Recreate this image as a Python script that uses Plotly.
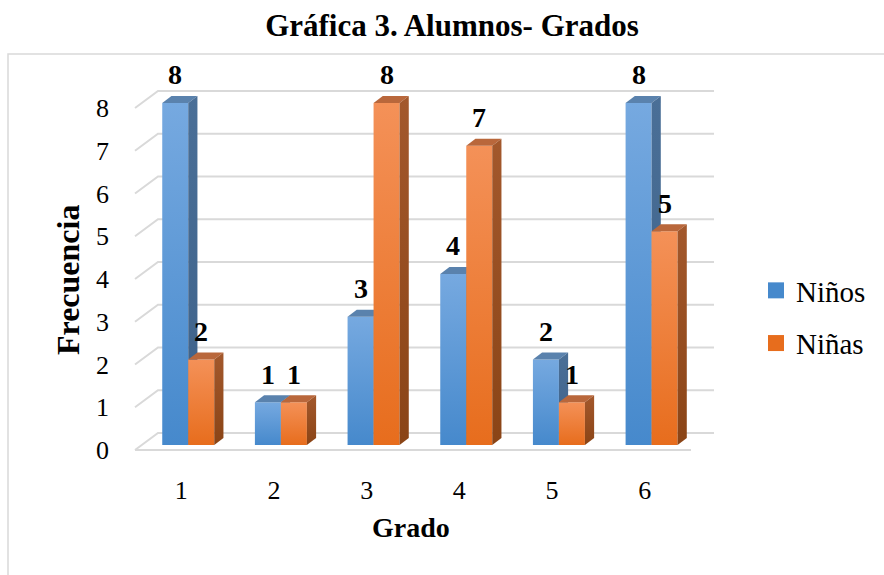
"""Gráfica 3: alumnos por grado (columnas 3D agrupadas, estilo Excel)."""

import plotly.graph_objects as go

GRADOS = [1, 2, 3, 4, 5, 6]
NINOS = [8, 1, 3, 4, 2, 8]
NINAS = [2, 1, 8, 7, 1, 5]
Y_TICKS = [0, 1, 2, 3, 4, 5, 6, 7, 8]

SERIES = [
    # name, values, front bottom, front top, side bottom, side top, top face
    ("Niños", NINOS, "#4689cc", "#76a9e0", "#3d6189", "#4a6f97", "#5a82ad"),
    ("Niñas", NINAS, "#e76d1d", "#f49158", "#8a4416", "#a3582c", "#b9673b"),
]

FONT = "Liberation Serif"
GRID = "#d9d9d9"

# pixel geometry of the fake 3D box
PX_X, PX_Y = 92.67, 42.75          # px per category / per unit
DX, DY = 23 / PX_X, 17 / PX_Y       # full floor depth in data units
T_FRONT, T_DEPTH = 0.3, 0.4         # bar front position and bar depth (fraction of floor)
BAR_W = 26 / PX_X

ML, MR, MT, MB = 130, 167, 60, 119
W, H = 884, 575
PW, PH = W - ML - MR, H - MT - MB
x_lo = 0.5 - (135 - ML) / PX_X
x_hi = x_lo + PW / PX_X
y_lo = -((H - MB) - 450) / PX_Y
y_hi = y_lo + PH / PX_Y


def px_x(p):
    return (p - ML) / PW


def px_y(p):
    return ((H - MB) - p) / PH


fig = go.Figure()

# walls / gridlines
gx, gy = [], []
n = len(GRADOS)
for k in Y_TICKS:
    gx += [0.5, 0.5 + DX, n + 0.5 + DX, None]
    gy += [k, k + DY, k + DY, None]
gx += [0.5, n + 0.5, None]
gy += [0, 0, None]
fig.add_trace(go.Scatter(x=gx, y=gy, mode="lines", line={"color": GRID, "width": 2},
                         hoverinfo="skip", showlegend=False))

fx, fy = T_FRONT * DX, T_FRONT * DY
sx, sy = T_DEPTH * DX, T_DEPTH * DY
labels = []
for i, g in enumerate(GRADOS):
    for s, (name, vals, c_bot, c_top, s_bot, s_top, c_lid) in enumerate(SERIES):
        v = vals[i]
        x0 = g + fx + (s - 1) * BAR_W
        x1 = x0 + BAR_W
        b, t = fy, v + fy
        # front face
        fig.add_trace(go.Scatter(
            x=[x0, x1, x1, x0, x0], y=[b, b, t, t, b], mode="lines", fill="toself",
            line={"width": 0}, fillgradient={"type": "vertical",
                                             "colorscale": [[0, c_bot], [1, c_top]]},
            hoverinfo="skip", showlegend=False))
        # top face
        fig.add_trace(go.Scatter(
            x=[x0, x1, x1 + sx, x0 + sx, x0], y=[t, t, t + sy, t + sy, t],
            mode="lines", fill="toself", fillcolor=c_lid, line={"width": 0},
            hoverinfo="skip", showlegend=False))
        # right side face
        fig.add_trace(go.Scatter(
            x=[x1, x1 + sx, x1 + sx, x1, x1], y=[b, b + sy, t + sy, t, b],
            mode="lines", fill="toself", line={"width": 0},
            fillgradient={"type": "vertical", "colorscale": [[0, s_bot], [1, s_top]]},
            hoverinfo="skip", showlegend=False))
        labels.append(dict(x=(x0 + x1) / 2, y=t, text=f"<b>{v}</b>", showarrow=False,
                           yshift=28, yanchor="middle",
                           font={"family": FONT, "size": 28, "color": "#000"}))

# legend entries
for s, (name, vals, c_bot, c_top, *_rest) in enumerate(SERIES):
    fig.add_trace(go.Scatter(
        x=[None], y=[None], mode="markers", name=name, legendgroup=name,
        marker={"symbol": "square", "size": 16, "color": c_bot,
                "line": {"width": 0}}))

fig.update_layout(
    width=W, height=H,
    margin={"l": ML, "r": MR, "t": MT, "b": MB, "autoexpand": False},
    plot_bgcolor="white", paper_bgcolor="white",
    font={"family": FONT, "size": 26, "color": "#000"},
    title={"text": "<b>Gráfica 3. Alumnos- Grados</b>", "x": 452 / W, "xanchor": "center",
           "y": 1 - 25 / H, "yanchor": "middle",
           "font": {"family": FONT, "size": 31, "color": "#000"}},
    xaxis={"range": [x_lo, x_hi], "tickvals": GRADOS, "ticktext": [str(g) for g in GRADOS],
           "showgrid": False, "zeroline": False, "showline": False, "ticks": "",
           "ticklabelstandoff": 16, "tickfont": {"size": 26}, "fixedrange": True},
    yaxis={"range": [y_lo, y_hi], "tickvals": Y_TICKS, "showgrid": False, "zeroline": False,
           "showline": False, "ticks": "", "ticklabelstandoff": 20,
           "tickfont": {"size": 26}, "fixedrange": True},
    legend={"x": px_x(756), "xanchor": "left", "y": px_y(317), "yanchor": "middle",
            "traceorder": "grouped", "tracegroupgap": 12,
            "font": {"family": FONT, "size": 29}, "bgcolor": "rgba(0,0,0,0)"},
    annotations=labels + [
        dict(text="<b>Frecuencia</b>", textangle=-90, xref="paper", yref="paper",
             x=px_x(68), y=px_y(280), xanchor="center", yanchor="middle",
             showarrow=False, font={"family": FONT, "size": 32}),
        dict(text="<b>Grado</b>", xref="paper", yref="paper",
             x=px_x(411), y=px_y(527), xanchor="center", yanchor="middle",
             showarrow=False, font={"family": FONT, "size": 28}),
    ],
    shapes=[dict(type="rect", xref="paper", yref="paper",
                 x0=px_x(8), x1=2, y0=-2, y1=px_y(54),
                 line={"color": GRID, "width": 1.5}, layer="below")],
    showlegend=True,
)

fig.write_html("out.html", config={"displayModeBar": False},
               post_script="document.body.style.margin='0';")
